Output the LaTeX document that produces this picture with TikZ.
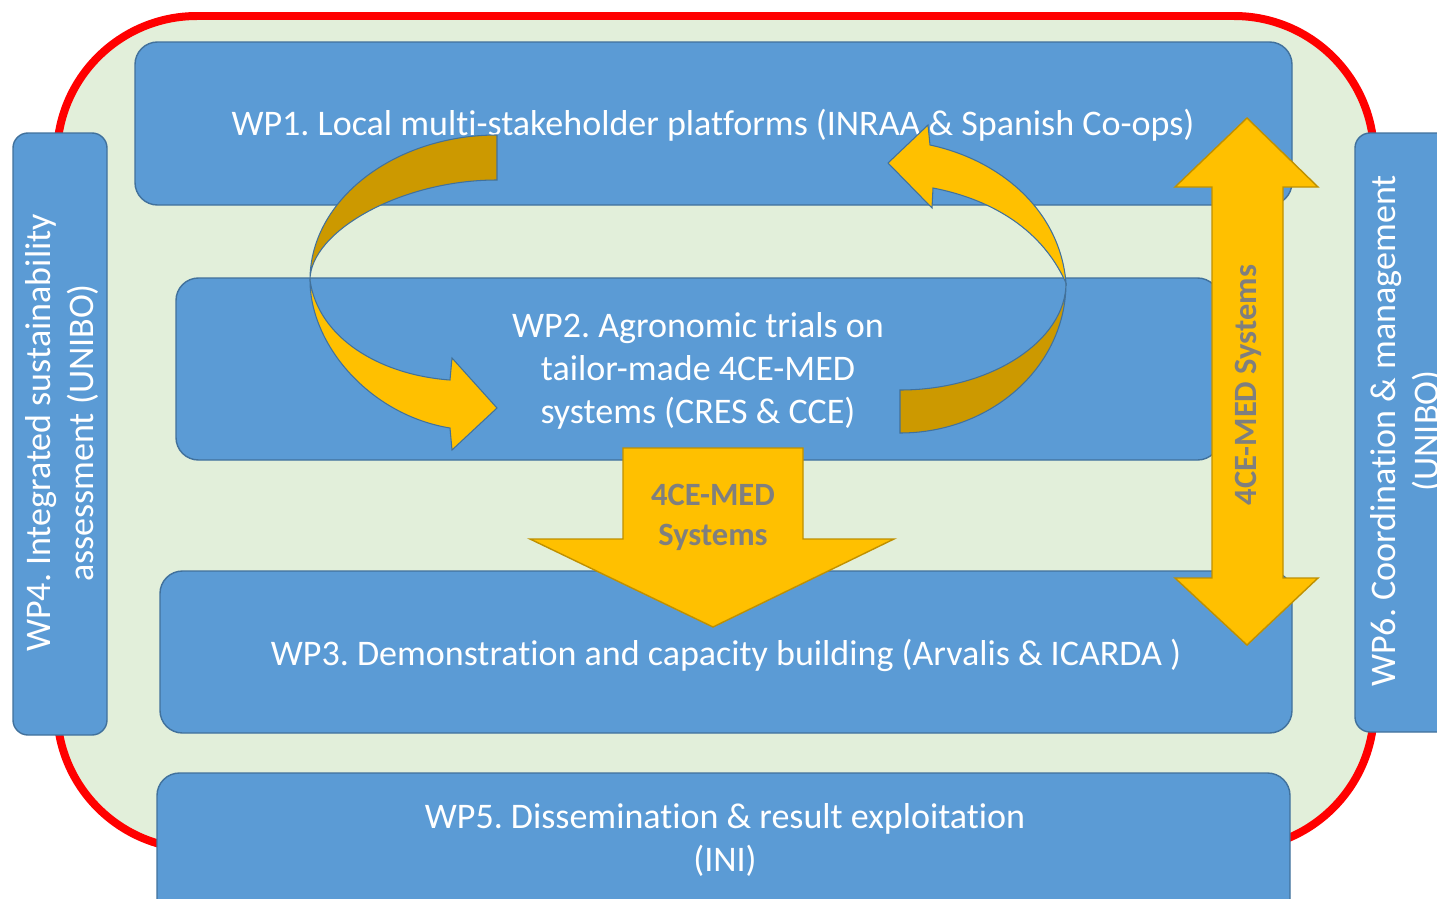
\documentclass[tikz,border=0pt]{standalone}
\usepackage{fontspec}
\setmainfont[Ligatures=NoCommon]{Carlito}
\frenchspacing
\definecolor{wpblue}{RGB}{91,155,213}
\definecolor{wpedge}{RGB}{65,113,156}
\definecolor{bgreen}{RGB}{226,239,218}
\definecolor{ygold}{RGB}{255,192,0}
\definecolor{ydark}{RGB}{204,153,0}
\definecolor{yedge}{RGB}{191,144,0}
\definecolor{sysgray}{RGB}{127,127,127}
\begin{document}
\begin{tikzpicture}[x=0.02cm,y=-0.02cm,
  frame/.style={fill=bgreen,draw=red,line width=0.16cm,rounded corners=2.8cm},
  wpbox/.style={fill=wpblue,draw=wpedge,line width=0.8pt,rounded corners=0.45cm},
  sidebox/.style={wpbox,rounded corners=0.3cm},
  wptext/.style={text=white,align=center,inner sep=0pt,font=\fontsize{20.5}{24.5}\selectfont},
  systext/.style={text=sysgray,align=center,inner sep=0pt,font=\fontsize{18.5}{22.8}\selectfont\bfseries},
  blockarrow/.style={fill=ygold,draw=yedge,line width=0.8pt},
  loopfront/.style={fill=ygold,draw=wpedge,line width=0.6pt},
  loopback/.style={fill=ydark,draw=wpedge,line width=0.6pt}]
 \useasboundingbox (0,0) rectangle (1437,899);
 \clip (0,0) rectangle (1437,899);
 \draw[frame] (57,16) rectangle (1374,849);
 \draw[sidebox] (13,133) rectangle (107,735);
 \draw[sidebox] (1355,133) rectangle (1457,732);
 \draw[wpbox] (135,42) rectangle (1292,205);
 \draw[wpbox] (176,278) rectangle (1220,460);
 \draw[wpbox] (160,571) rectangle (1292,733);
 \draw[wpbox] (157,773) rectangle (1290,940);
 \node[wptext] (wp1) at (713,125) {WP1. Local multi-stakeholder platforms (INRAA \& Spanish Co-ops)};
 \node[wptext] (wp2) at (698,371) {WP2. Agronomic trials on\\tailor-made 4CE-MED\\systems (CRES \& CCE)};
 \node[wptext] (wp3) at (726,655) {WP3. Demonstration and capacity building (Arvalis \& ICARDA )};
 \node[wptext] (wp5) at (725,840) {WP5. Dissemination \& result exploitation\\(INI)};
 \node[wptext,rotate=90] (wp4) at (62,433) {WP4. Integrated sustainability\\assessment (UNIBO)};
 \node[wptext,rotate=90] (wp6) at (1407,431) {WP6. Coordination \& management\\(UNIBO)};
 \draw[loopback] (497,135) .. controls (394,135) and (310,200) .. (310,280)
   .. controls (310,232) and (400,180) .. (497,180) -- cycle;
 \draw[loopfront] (310,280) .. controls (310,345) and (370,415) .. (450,428)
   -- (452,450) -- (497,408) -- (452,358) -- (450,380)
   .. controls (380,375) and (318,338) .. (310,280) -- cycle;
 \draw[loopback] (900,390) .. controls (992,390) and (1066,340) .. (1066,283)
   .. controls (1066,366) and (992,433) .. (900,433) -- cycle;
 \draw[loopfront] (1066,283) .. controls (1060,210) and (1000,160) .. (930,145)
   -- (928,125) -- (888,163) -- (932,208) -- (933,188)
   .. controls (985,198) and (1040,225) .. (1066,283) -- cycle;
 \draw[blockarrow] (623,448) -- (803,448) -- (803,539) -- (894,539) -- (713,627)
   -- (530,539) -- (623,539) -- cycle;
 \draw[blockarrow] (1247,118) -- (1318,187) -- (1283,187) -- (1283,578) -- (1318,578)
   -- (1247,645) -- (1175,578) -- (1212,578) -- (1212,187) -- (1175,187) -- cycle;
 \node[systext] (down) at (713,517) {4CE-MED\\Systems};
 \node[systext,rotate=90] (both) at (1248,385) {4CE-MED Systems};
\end{tikzpicture}
\end{document}
